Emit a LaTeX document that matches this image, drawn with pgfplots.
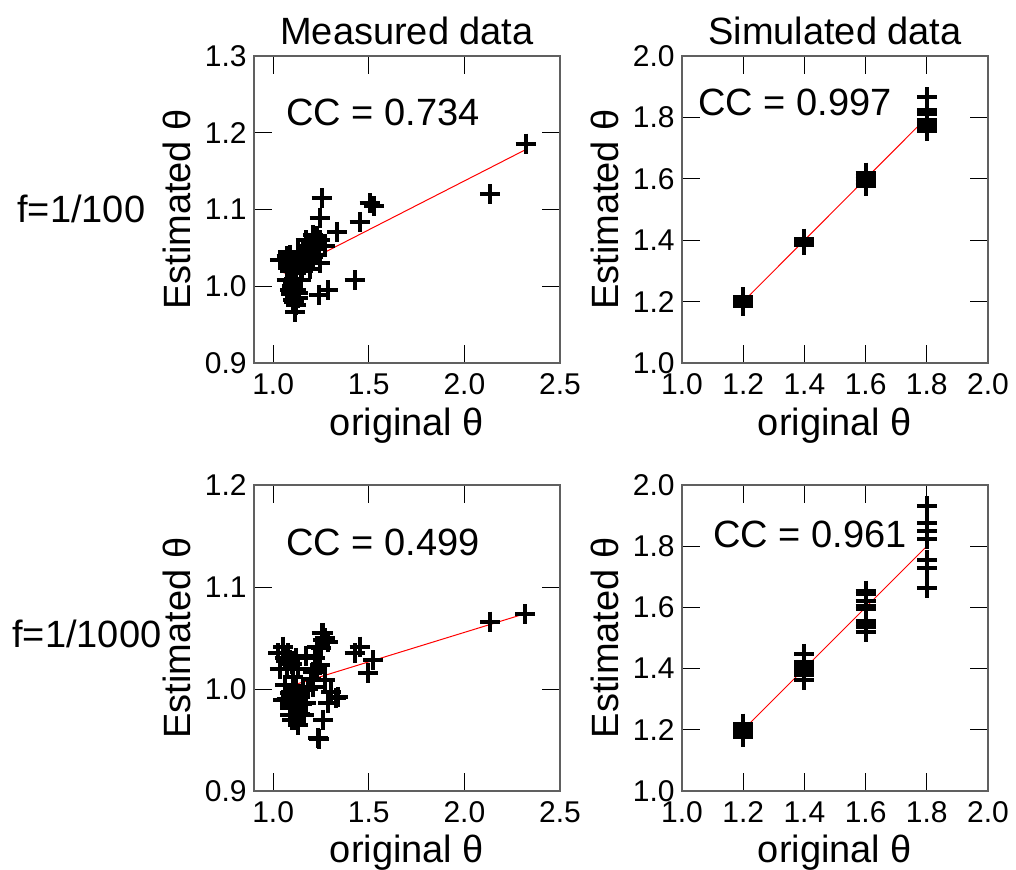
\documentclass[border=0pt]{standalone}
\usepackage{fontspec}
\setmainfont{Liberation Sans}
\usepackage{pgfplots}
\pgfplotsset{compat=1.18}

\newcommand{\bigfont}{\fontsize{19}{22}\selectfont}
\newcommand{\tickfont}{\fontsize{15}{18}\selectfont}

\pgfplotsset{
  panel/.style={
    scale only axis, width=153pt, height=153.5pt, anchor=south west,
    tick align=inside, major tick length=9pt,
    tick style={black, line width=0.5pt},
    axis line style={gray!75!black, line width=0.8pt},
    ticklabel style={font=\tickfont},
    /pgf/number format/assume math mode=true,
    /pgf/number format/fixed, /pgf/number format/fixed zerofill,
    /pgf/number format/precision=1,
    xticklabel style={anchor=north, inner sep=0pt, yshift=-5pt},
    yticklabel style={anchor=east, inner sep=0pt, xshift=-3.5pt},
    xlabel={original θ}, ylabel={Estimated θ},
    xlabel style={at={(axis description cs:0.5,-0.2345)}, anchor=base, inner sep=0pt, font=\bigfont},
    ylabel style={at={(axis description cs:-0.206,0.5)}, anchor=base, inner sep=0pt, font=\bigfont},
    clip=false,
  },
  pts/.style={only marks, mark=+, black, mark size=5pt, mark options={line width=2pt}},
  fit/.style={red, line width=0.5pt, no marks},
}
\tikzset{cc/.style={anchor=base west, inner sep=0pt, font=\bigfont}}

\begin{document}
\begin{tikzpicture}
\path[use as bounding box] (0,0) rectangle (508pt,-434.5pt);

\node[anchor=base, inner sep=0pt, font=\bigfont] at (203.5pt,-22pt) {Measured data};
\node[anchor=base, inner sep=0pt, font=\bigfont] at (417.5pt,-22pt) {Simulated data};
\node[anchor=base west, inner sep=0pt, font=\bigfont] at (8.5pt,-111pt) {f=1/100};
\node[anchor=base west, inner sep=0pt, font=\bigfont] at (6pt,-323.5pt) {f=1/1000};

% top left: measured, f=1/100
\begin{axis}[panel, at={(127pt,-181.5pt)},
  xmin=0.9, xmax=2.5, ymin=0.9, ymax=1.3,
  xtick={1.0,1.5,2.0,2.5}, ytick={0.9,1.0,1.1,1.2,1.3}]
\addplot[pts] coordinates {
 (2.320,1.186) (2.134,1.120) (1.253,1.115) (1.244,1.089) (1.504,1.108)
 (1.530,1.104) (1.452,1.084) (1.334,1.071) (1.426,1.008) (1.287,0.995)
 (1.240,0.989) (1.114,0.967) (1.061,1.034) (1.209,1.067) (1.244,1.060)
 (1.192,1.053) (1.270,1.052) (1.157,1.045) (1.227,1.041) (1.088,1.041)
 (1.053,1.034) (1.122,1.034) (1.088,1.025) (1.174,1.032) (1.192,1.023)
 (1.244,1.030) (1.070,1.008) (1.105,1.004) (1.088,0.995) (1.131,0.991)
 (1.105,0.982) (1.148,1.008) (1.122,1.017) (1.035,1.034) (1.209,1.056)
 (1.183,1.048) (1.100,0.998) (1.115,0.985) (1.095,0.990) (1.210,1.038)
 (1.100,1.000) (1.120,0.995) (1.110,1.010) (1.090,1.020) (1.140,1.030)
 (1.160,1.040) (1.180,1.050) (1.200,1.045) (1.220,1.055) (1.230,1.048)
 (1.110,0.980) (1.130,0.985) (1.070,1.040) (1.150,1.020) (1.120,0.975)
 (1.200,1.030) (1.170,1.060) (1.230,1.065) (1.080,1.030) (1.130,1.045)
};
\addplot[fit] coordinates {(1.056,1.017) (2.320,1.178)};
\node[cc] at (rel axis cs:0.1046,0.775) {CC = 0.734};
\end{axis}

% top right: simulated, f=1/100
\begin{axis}[panel, at={(341pt,-181.5pt)},
  xmin=1.0, xmax=2.0, ymin=1.0, ymax=2.0,
  xtick={1.0,1.2,1.4,1.6,1.8,2.0}, ytick={1.0,1.2,1.4,1.6,1.8,2.0}]
\addplot[pts] coordinates {
 (1.2,1.215) (1.2,1.205) (1.2,1.195) (1.2,1.190) (1.2,1.185) (1.2,1.200)
 (1.4,1.405) (1.4,1.400) (1.4,1.395) (1.4,1.390) (1.4,1.385)
 (1.6,1.620) (1.6,1.610) (1.6,1.600) (1.6,1.590) (1.6,1.580) (1.6,1.575)
 (1.8,1.865) (1.8,1.824) (1.8,1.810) (1.8,1.790) (1.8,1.780) (1.8,1.770) (1.8,1.757)
};
\addplot[fit] coordinates {(1.2,1.2) (1.8,1.8)};
\node[cc] at (rel axis cs:0.052,0.8046) {CC = 0.997};
\end{axis}

% bottom left: measured, f=1/1000
\begin{axis}[panel, at={(127pt,-395.5pt)}, height=153pt,
  xmin=0.9, xmax=2.5, ymin=0.9, ymax=1.2,
  xtick={1.0,1.5,2.0,2.5}, ytick={0.9,1.0,1.1,1.2}]
\addplot[pts] coordinates {
 (2.317,1.0735) (2.134,1.066) (1.452,1.0415) (1.426,1.035) (1.521,1.028)
 (1.495,1.016) (1.331,0.991) (1.287,0.986) (1.261,0.970) (1.240,0.951)
 (1.253,1.055) (1.270,1.050) (1.261,1.055) (1.287,1.046) (1.227,1.0415)
 (1.053,1.0415) (1.027,1.035) (1.088,1.028) (1.174,1.032) (1.244,1.024)
 (1.131,1.020) (1.035,1.020) (1.209,1.017) (1.105,1.012) (1.270,1.0088)
 (1.305,0.997) (1.339,0.992) (1.088,0.996) (1.140,0.9925) (1.053,0.989)
 (1.174,0.986) (1.088,0.981) (1.140,0.976) (1.122,0.970) (1.235,0.952)
 (1.157,0.999) (1.061,1.004) (1.209,1.002) (1.100,0.985) (1.070,1.030)
 (1.100,0.995) (1.120,0.990) (1.090,0.985) (1.130,0.980) (1.110,0.975)
 (1.150,0.985) (1.100,0.970) (1.120,1.000) (1.160,0.975) (1.140,0.995)
 (1.070,0.990) (1.130,0.965) (1.060,1.030) (1.080,1.035) (1.100,1.025)
 (1.070,1.020) (1.120,1.030) (1.220,1.030) (1.250,1.040) (1.230,1.020)
 (1.260,1.048) (1.200,1.010) (1.180,1.000) (1.110,0.990) (1.090,0.975)
};
\addplot[fit] coordinates {(1.056,1.001) (2.320,1.074)};
\node[cc] at (rel axis cs:0.1046,0.771) {CC = 0.499};
\end{axis}

% bottom right: simulated, f=1/1000
\begin{axis}[panel, at={(341pt,-395.5pt)}, height=153pt,
  xmin=1.0, xmax=2.0, ymin=1.0, ymax=2.0,
  xtick={1.0,1.2,1.4,1.6,1.8,2.0}, ytick={1.0,1.2,1.4,1.6,1.8,2.0}]
\addplot[pts] coordinates {
 (1.2,1.220) (1.2,1.210) (1.2,1.200) (1.2,1.190) (1.2,1.185) (1.2,1.175)
 (1.4,1.448) (1.4,1.420) (1.4,1.410) (1.4,1.400) (1.4,1.390) (1.4,1.380) (1.4,1.363)
 (1.6,1.655) (1.6,1.645) (1.6,1.620) (1.6,1.605) (1.6,1.595) (1.6,1.555)
 (1.6,1.545) (1.6,1.535) (1.6,1.520)
 (1.8,1.930) (1.8,1.875) (1.8,1.850) (1.8,1.825) (1.8,1.755) (1.8,1.730) (1.8,1.665)
};
\addplot[fit] coordinates {(1.2,1.2) (1.8,1.8)};
\node[cc] at (rel axis cs:0.101,0.796) {CC = 0.961};
\end{axis}
\end{tikzpicture}
\end{document}
